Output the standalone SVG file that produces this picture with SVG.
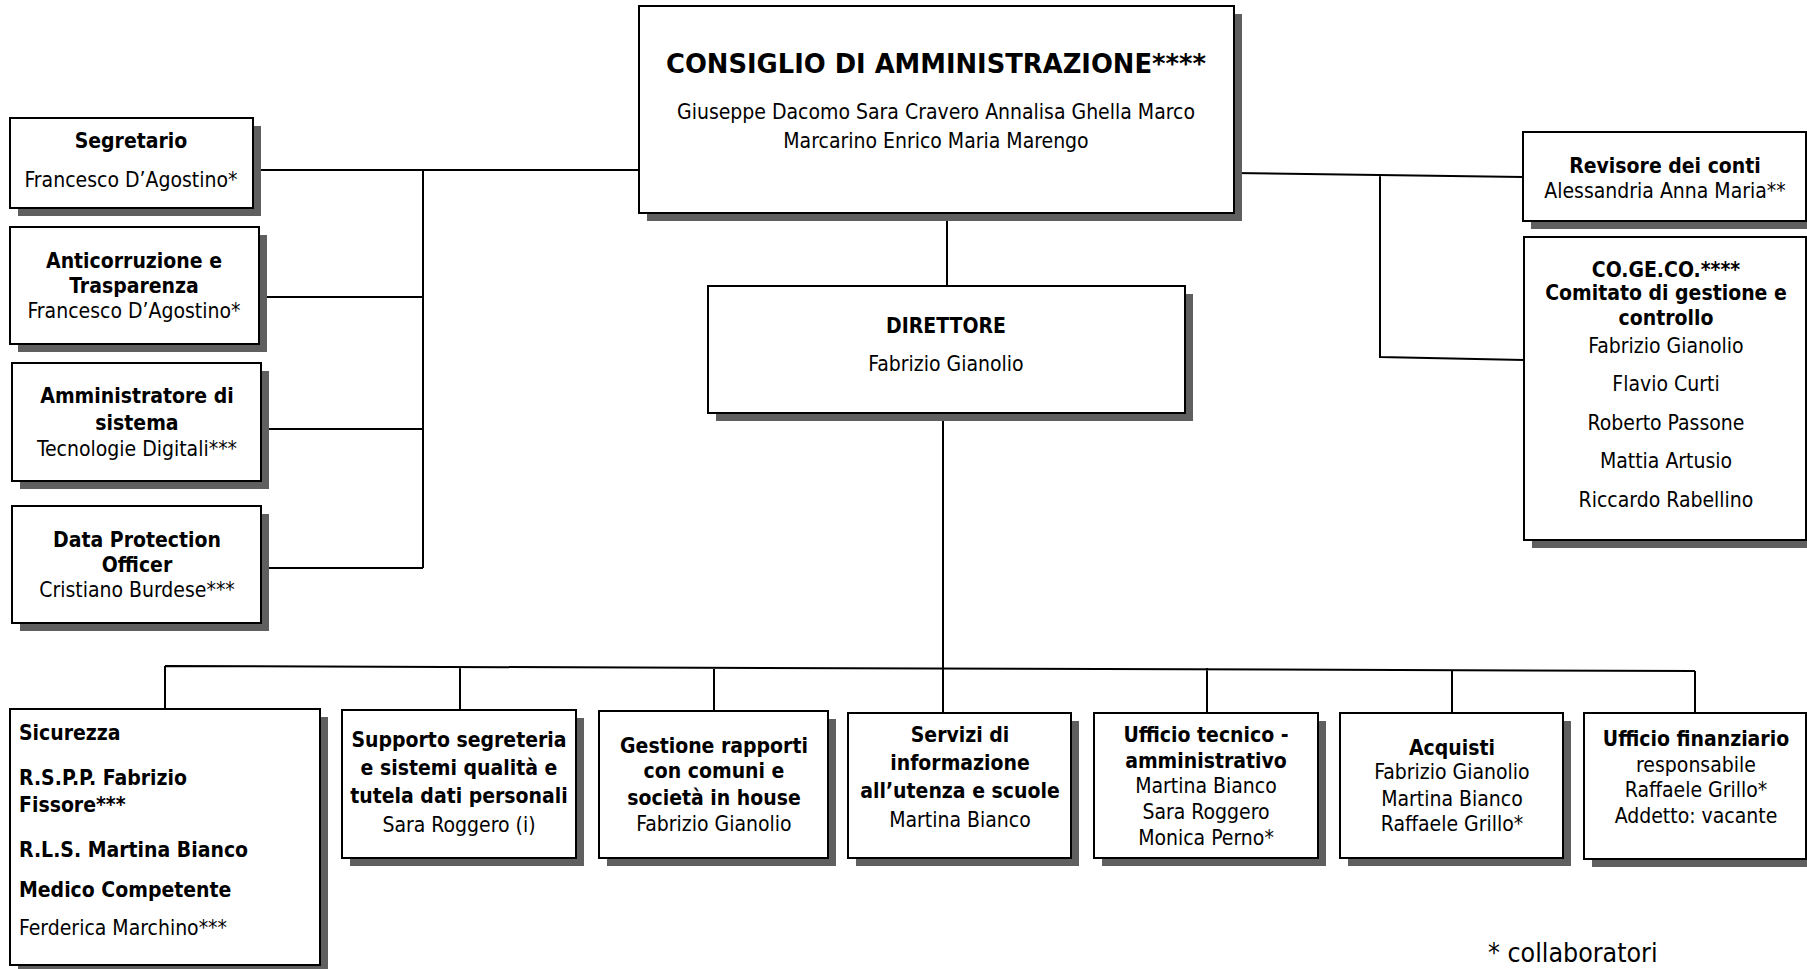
<svg xmlns="http://www.w3.org/2000/svg" width="1807" height="969" viewBox="0 0 1807 969">
<style>
text{font-family:"DejaVu Sans Condensed","DejaVu Sans",sans-serif;font-size:21px;fill:#000;text-anchor:middle}
.b{font-weight:bold}
.l{text-anchor:start}
.box{fill:#fff;stroke:#000;stroke-width:2}
.sh{fill:#5f5f5f}
.c{fill:none;stroke:#000;stroke-width:2}
</style>
<g id="connectors">
<path class="c" d="M253 170H639M423 170V568M260 297H423M261 429H423M261 568H423"/>
<path class="c" d="M1234 173L1523 177M1380 175V357L1524 360"/>
<path class="c" d="M947 213V286M943 413V713"/>
<path class="c" d="M165 666L1695 671M165 666V709M460 667V710M714 667V711M1207 668V713M1452 670V713M1695 671V713"/>
</g>
<g id="segretario">
<rect class="sh" x="18" y="126" width="243" height="90"/>
<rect class="box" x="10" y="118" width="243" height="90"/>
<text class="b" x="131" y="148">Segretario</text>
<text x="131" y="187">Francesco D’Agostino*</text>
</g>
<g id="anticorruzione">
<rect class="sh" x="18" y="235" width="249" height="117"/>
<rect class="box" x="10" y="227" width="249" height="117"/>
<text class="b" x="134" y="268">Anticorruzione e</text>
<text class="b" x="134" y="293">Trasparenza</text>
<text x="134" y="318">Francesco D’Agostino*</text>
</g>
<g id="amministratore">
<rect class="sh" x="20" y="371" width="249" height="118"/>
<rect class="box" x="12" y="363" width="249" height="118"/>
<text class="b" x="137" y="403">Amministratore di</text>
<text class="b" x="137" y="430">sistema</text>
<text x="137" y="456">Tecnologie Digitali***</text>
</g>
<g id="dpo">
<rect class="sh" x="20" y="514" width="249" height="117"/>
<rect class="box" x="12" y="506" width="249" height="117"/>
<text class="b" x="137" y="547">Data Protection</text>
<text class="b" x="137" y="572">Officer</text>
<text x="137" y="597">Cristiano Burdese***</text>
</g>
<g id="cda">
<rect class="sh" x="647" y="14" width="595" height="207"/>
<rect class="box" x="639" y="6" width="595" height="207"/>
<text class="b" x="936" y="73" style="font-size:26px" textLength="540" lengthAdjust="spacingAndGlyphs">CONSIGLIO DI AMMINISTRAZIONE****</text>
<text x="936" y="119">Giuseppe Dacomo Sara Cravero Annalisa Ghella Marco</text>
<text x="936" y="148">Marcarino Enrico Maria Marengo</text>
</g>
<g id="direttore">
<rect class="sh" x="716" y="294" width="477" height="127"/>
<rect class="box" x="708" y="286" width="477" height="127"/>
<text class="b" x="946" y="333">DIRETTORE</text>
<text x="946" y="371">Fabrizio Gianolio</text>
</g>
<g id="revisore">
<rect class="sh" x="1531" y="140" width="283" height="89"/>
<rect class="box" x="1523" y="132" width="283" height="89"/>
<text class="b" x="1665" y="173">Revisore dei conti</text>
<text x="1665" y="198">Alessandria Anna Maria**</text>
</g>
<g id="cogeco">
<rect class="sh" x="1532" y="245" width="282" height="303"/>
<rect class="box" x="1524" y="237" width="282" height="303"/>
<text class="b" x="1666" y="277">CO.GE.CO.****</text>
<text class="b" x="1666" y="300">Comitato di gestione e</text>
<text class="b" x="1666" y="325">controllo</text>
<text x="1666" y="353">Fabrizio Gianolio</text>
<text x="1666" y="391">Flavio Curti</text>
<text x="1666" y="430">Roberto Passone</text>
<text x="1666" y="468">Mattia Artusio</text>
<text x="1666" y="507">Riccardo Rabellino</text>
</g>
<g id="sicurezza">
<rect class="sh" x="18" y="717" width="310" height="256"/>
<rect class="box" x="10" y="709" width="310" height="256"/>
<text class="b l" x="19" y="740">Sicurezza</text>
<text class="b l" x="19" y="785">R.S.P.P. Fabrizio</text>
<text class="b l" x="19" y="812">Fissore***</text>
<text class="b l" x="19" y="857">R.L.S. Martina Bianco</text>
<text class="b l" x="19" y="897">Medico Competente</text>
<text class="l" x="19" y="935">Ferderica Marchino***</text>
</g>
<g id="supporto">
<rect class="sh" x="350" y="718" width="234" height="148"/>
<rect class="box" x="342" y="710" width="234" height="148"/>
<text class="b" x="459" y="747">Supporto segreteria</text>
<text class="b" x="459" y="775">e sistemi qualità e</text>
<text class="b" x="459" y="803">tutela dati personali</text>
<text x="459" y="832">Sara Roggero (i)</text>
</g>
<g id="gestione">
<rect class="sh" x="607" y="719" width="229" height="147"/>
<rect class="box" x="599" y="711" width="229" height="147"/>
<text class="b" x="714" y="753">Gestione rapporti</text>
<text class="b" x="714" y="778">con comuni e</text>
<text class="b" x="714" y="805">società in house</text>
<text x="714" y="831">Fabrizio Gianolio</text>
</g>
<g id="servizi">
<rect class="sh" x="856" y="721" width="223" height="145"/>
<rect class="box" x="848" y="713" width="223" height="145"/>
<text class="b" x="960" y="742">Servizi di</text>
<text class="b" x="960" y="770">informazione</text>
<text class="b" x="960" y="798">all’utenza e scuole</text>
<text x="960" y="827">Martina Bianco</text>
</g>
<g id="ufficio-tecnico">
<rect class="sh" x="1102" y="721" width="224" height="145"/>
<rect class="box" x="1094" y="713" width="224" height="145"/>
<text class="b" x="1206" y="742">Ufficio tecnico -</text>
<text class="b" x="1206" y="768">amministrativo</text>
<text x="1206" y="793">Martina Bianco</text>
<text x="1206" y="819">Sara Roggero</text>
<text x="1206" y="845">Monica Perno*</text>
</g>
<g id="acquisti">
<rect class="sh" x="1348" y="721" width="223" height="145"/>
<rect class="box" x="1340" y="713" width="223" height="145"/>
<text class="b" x="1452" y="755">Acquisti</text>
<text x="1452" y="779">Fabrizio Gianolio</text>
<text x="1452" y="806">Martina Bianco</text>
<text x="1452" y="831">Raffaele Grillo*</text>
</g>
<g id="ufficio-finanziario">
<rect class="sh" x="1592" y="721" width="222" height="146"/>
<rect class="box" x="1584" y="713" width="222" height="146"/>
<text class="b" x="1696" y="746">Ufficio finanziario</text>
<text x="1696" y="772">responsabile</text>
<text x="1696" y="797">Raffaele Grillo*</text>
<text x="1696" y="823">Addetto: vacante</text>
</g>
<g id="legend">
<text class="l" x="1488" y="962" style="font-size:26.5px">* collaboratori</text>
</g>
</svg>
